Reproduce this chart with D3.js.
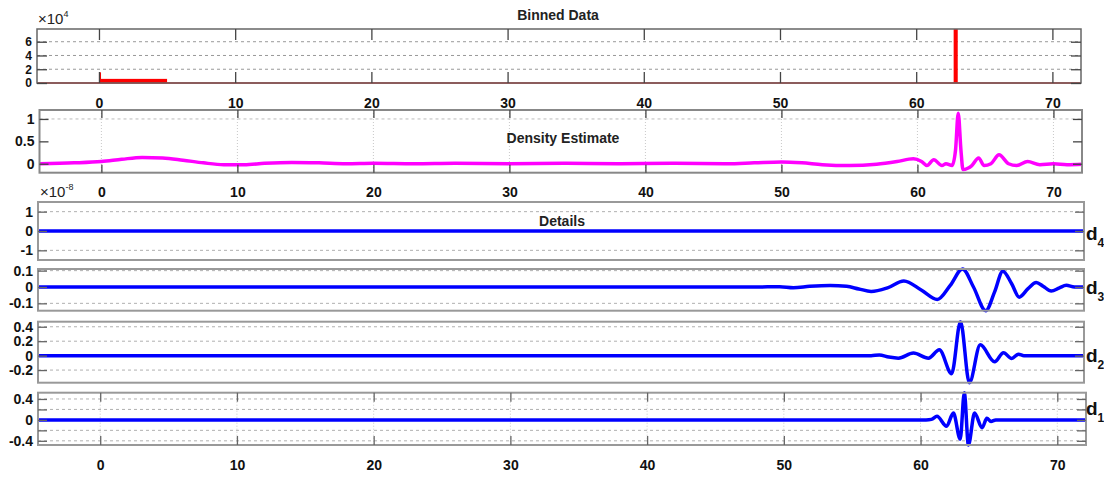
<!DOCTYPE html>
<html>
<head>
<meta charset="utf-8">
<script src="https://cdn.jsdelivr.net/npm/d3@7"></script>
<style>
  body { margin: 0; background: #fff; }
  svg { display: block; }
  text { font-family: "Liberation Sans", Arial, Helvetica, sans-serif; }
</style>
</head>
<body>
<svg id="chart" width="1104" height="477"></svg>
<script>
// Shared x range and ticks
const xDomain = [-4.55, 72.1];
const xTicks = [0, 10, 20, 30, 40, 50, 60, 70];

// Binned data (counts per bin)
const binStart = [0, 0.15, 62.75];
const binEnd   = [0.15, 5.0, 63.05];
const binCount = [15500, 6000, 78500];
const binTicks = [0, 20000, 40000, 60000];

// Density estimate
const densX = [-4.55, -2, 0, 1.5, 3, 4.5, 6, 7.5, 9, 10.5, 12, 14, 16, 18, 20, 23, 26, 30, 34, 38, 42, 46, 48, 50,
               51.5, 53, 55, 57, 58.5, 59.7, 60.3, 60.7, 61.2, 61.8, 62.1, 62.55, 62.8, 63.0, 63.2, 63.35, 63.7, 64.0,
               64.5, 64.9, 65.4, 66.0, 66.7, 67.3, 68.1, 69.0, 70, 71, 72.1];
const densY = [0.0, 0.02, 0.05, 0.1, 0.14, 0.13, 0.08, 0.02, -0.02, -0.02, 0.01, 0.03, 0.02, 0.0, 0.01, 0.0, 0.01, 0.0, 0.01, 0.0, 0.01, 0.0, 0.02, 0.04,
               0.02, -0.02, -0.04, -0.01, 0.05, 0.11, 0.05, -0.04, 0.09, -0.04, 0.0, -0.04, 0.3, 1.13, 0.3, -0.13, -0.1, -0.04,
               0.13, -0.04, 0.0, 0.2, 0.0, -0.04, 0.05, -0.02, 0.0, -0.02, -0.01];
const densTicks = [0, 0.5, 1];

// Detail coefficients, levels 4 to 1
const d4X = [-4.55, 20, 40, 60, 72.1];
const d4Y = [0, 0, 0, 0, 0];
const d4Ticks = [-1, 0, 1];

const d3X = [-4.55, 10, 30, 48, 49.8, 50.8, 52, 53.5, 54.7, 55.6, 56.5, 57.7, 58.9, 60.2, 61.35, 62.3, 63.2, 64.0,
             64.9, 65.55, 66.15, 66.8, 67.35, 68.0, 68.6, 69.1, 69.7, 70.3, 70.8, 71.4, 72.1];
const d3Y = [0, 0, 0, 0, 0.002, -0.004, 0.004, 0.009, 0.004, -0.012, -0.027, -0.005, 0.037, -0.02, -0.076, 0.01, 0.11, 0.0,
             -0.145, -0.03, 0.097, 0.02, -0.062, -0.01, 0.027, 0.005, -0.025, -0.005, 0.01, 0.0, 0.0];
const d3Ticks = [-0.1, 0, 0.1];

const d2X = [-4.55, 20, 40, 56.5, 57.1, 57.8, 58.5, 59.6, 60.7, 61.5, 62.4, 63.05, 63.7, 64.5, 65.55, 66.2, 66.8, 67.3, 67.7, 70, 72.1];
const d2Y = [0, 0, 0, 0, 0.01, -0.02, -0.035, 0.035, -0.035, 0.08, -0.25, 0.47, -0.375, 0.15, -0.085, 0.04, -0.04, 0.02, 0, 0, 0];
const d2Ticks = [-0.2, 0, 0.2, 0.4];

const d1X = [-4.55, 20, 40, 60.4, 60.8, 61.2, 61.9, 62.4, 62.9, 63.2, 63.5, 63.95, 64.5, 64.85, 65.15, 65.5, 72.1];
const d1Y = [0, 0, 0, 0, 0.01, 0.07, -0.12, 0.13, -0.37, 0.52, -0.48, 0.13, -0.15, 0.03, -0.03, 0, 0];
const d1Ticks = [-0.4, -0.2, 0, 0.2, 0.4];
const d1Labels = [-0.4, 0, 0.4];

const svg = d3.select("#chart");
svg.append("rect").attr("width", 1104).attr("height", 477).attr("fill", "#fff");

const num = d => String(d);

// Builds one axes box: grid, frame, inward ticks on all four sides
function panel(box, yDomain, o) {
  const x = d3.scaleLinear().domain(xDomain).range([box.l, box.r]);
  const y = d3.scaleLinear().domain(yDomain).range([box.b, box.t]);
  const g = svg.append("g");
  const tl = o.tickLen || 9;

  // horizontal grid
  g.append("g").selectAll("line").data(o.hGrid || []).join("line")
    .attr("x1", box.l).attr("x2", box.r)
    .attr("y1", d => y(d)).attr("y2", d => y(d))
    .attr("stroke", o.gridColor || "#aaa").attr("stroke-width", 1)
    .attr("stroke-dasharray", "3,3");
  // vertical grid
  g.append("g").selectAll("line").data(o.vGrid || []).join("line")
    .attr("x1", d => x(d)).attr("x2", d => x(d))
    .attr("y1", box.t).attr("y2", box.b)
    .attr("stroke", "#c8c8c8").attr("stroke-width", 1)
    .attr("stroke-dasharray", "1,2");

  const plot = g.append("g");

  // frame
  g.append("rect")
    .attr("x", box.l).attr("y", box.t)
    .attr("width", box.r - box.l).attr("height", box.b - box.t)
    .attr("fill", "none").attr("stroke", o.frame || "#999").attr("stroke-width", o.frameW || 2);

  const styleAxis = (sel, showText, size) => {
    sel.select(".domain").remove();
    sel.selectAll(".tick line").attr("stroke", o.tickColor || "#444").attr("stroke-width", 1.3);
    sel.selectAll(".tick text")
      .attr("fill", "#111").attr("font-size", size || 14).attr("font-weight", "bold")
      .style("display", showText ? null : "none");
  };

  // y axes
  const yl = g.append("g").attr("transform", `translate(${box.l},0)`)
    .call(d3.axisLeft(y).tickValues(o.yTicks).tickSize(-tl).tickPadding(5)
      .tickFormat(d => (o.yLabels ? (o.yLabels.includes(d) ? o.yFmt(d) : "") : o.yFmt(d))));
  styleAxis(yl, true, o.yFont);
  const yr = g.append("g").attr("transform", `translate(${box.r},0)`)
    .call(d3.axisRight(y).tickValues(o.yTicks).tickSize(-tl).tickFormat(""));
  styleAxis(yr, false);

  // x axes
  if (o.xTicksOn) {
    const xb = g.append("g").attr("transform", `translate(0,${box.b})`)
      .call(d3.axisBottom(x).tickValues(xTicks).tickSize(-(o.xTickLen || 10)).tickPadding(o.xPad || 15).tickFormat(num));
    styleAxis(xb, !!o.xLabels);
    const xt = g.append("g").attr("transform", `translate(0,${box.t})`)
      .call(d3.axisTop(x).tickValues(xTicks).tickSize(-(o.xTickLen || 10)).tickFormat(""));
    styleAxis(xt, false);
  }
  return { x, y, plot };
}

function title(txt, cx, by) {
  svg.append("text").attr("x", cx).attr("y", by).attr("text-anchor", "middle")
    .attr("font-size", 14).attr("font-weight", "bold").attr("fill", "#222").text(txt);
}

function exponent(x, by, pow) {
  const t = svg.append("text").attr("x", x).attr("y", by)
    .attr("font-size", 15).attr("fill", "#222");
  t.append("tspan").text("×10");
  t.append("tspan").attr("font-size", 9).attr("dy", -7).text(pow);
}

function dLabel(lvl, x, by) {
  const t = svg.append("text").attr("x", x).attr("y", by)
    .attr("font-size", 19).attr("font-weight", "bold").attr("fill", "#111");
  t.append("tspan").text("d");
  t.append("tspan").attr("font-size", 12).attr("dy", 7).text(lvl);
}

// ---- Binned data ----
const p1 = panel({ l: 37, r: 1081, t: 29, b: 83 }, [0, d3.max(binCount)], {
  yTicks: binTicks, yFmt: d => String(d / 1e4), hGrid: binTicks.filter(d => d > 0), yFont: 12,
  gridColor: "#999", frame: "#666", frameW: 1.5, tickLen: 10,
  xTicksOn: true, xLabels: true, xPad: 15, xTickLen: 11
});
p1.plot.append("line")
  .attr("x1", p1.x(xDomain[0])).attr("x2", p1.x(xDomain[1]))
  .attr("y1", p1.y(0)).attr("y2", p1.y(0))
  .attr("stroke", "#ff0000").attr("stroke-width", 1.5);
p1.plot.selectAll("rect").data(binCount).join("rect")
  .attr("x", (d, i) => p1.x(binStart[i]))
  .attr("width", (d, i) => p1.x(binEnd[i]) - p1.x(binStart[i]))
  .attr("y", d => p1.y(d))
  .attr("height", d => p1.y(0) - p1.y(d))
  .attr("fill", "#ff0000");
title("Binned Data", 558, 20);
exponent(38, 24, "4");

// ---- Density estimate ----
const p2 = panel({ l: 39.5, r: 1082, t: 110, b: 172.7 }, [-0.2, 1.2], {
  yTicks: densTicks, yFmt: num, hGrid: [1], vGrid: xTicks,
  gridColor: "#bbb", frame: "#888", frameW: 2, tickLen: 9,
  xTicksOn: true, xLabels: true, xPad: 14, xTickLen: 8
});
p2.plot.append("path")
  .datum(densX.map((v, i) => [v, densY[i]]))
  .attr("fill", "none").attr("stroke", "#ff00ff").attr("stroke-width", 3.5)
  .attr("stroke-linejoin", "round")
  .attr("d", d3.line().x(d => p2.x(d[0])).y(d => p2.y(d[1])).curve(d3.curveMonotoneX));
title("Density Estimate", 563, 143);
exponent(40, 197, "-8");

// ---- Details ----
const details = [
  { X: d4X, Y: d4Y, ticks: d4Ticks, dom: [-1.5, 1.5], box: { l: 38, r: 1084, t: 202, b: 260 }, lvl: "4", lab: 240 },
  { X: d3X, Y: d3Y, ticks: d3Ticks, dom: null, box: { l: 38, r: 1084, t: 269, b: 310.7 }, lvl: "3", lab: 294 },
  { X: d2X, Y: d2Y, ticks: d2Ticks, dom: null, box: { l: 38, r: 1084, t: 321.7, b: 382.7 }, lvl: "2", lab: 362 },
  { X: d1X, Y: d1Y, ticks: d1Ticks, dom: null, box: { l: 38, r: 1086, t: 392.7, b: 445 }, lvl: "1", lab: 415, labels: d1Labels, xAxis: true }
];

details.forEach(s => {
  const dom = s.dom || d3.extent(s.Y);
  const p = panel(s.box, dom, {
    yTicks: s.ticks, yFmt: num, yLabels: s.labels,
    hGrid: s.ticks.filter(d => d !== 0 && d > dom[0] && d < dom[1]),
    vGrid: s.xAxis ? xTicks : [],
    gridColor: "#b0b0b0", frame: "#999", frameW: 2, tickLen: 9, tickColor: "#666",
    xTicksOn: !!s.xAxis, xLabels: !!s.xAxis, xPad: 15, xTickLen: 9
  });
  p.plot.append("path")
    .datum(s.X.map((v, i) => [v, s.Y[i]]))
    .attr("fill", "none").attr("stroke", "#0000ff").attr("stroke-width", 3.5)
    .attr("stroke-linejoin", "round")
    .attr("d", d3.line().x(d => p.x(d[0])).y(d => p.y(d[1])).curve(d3.curveMonotoneX));
  dLabel(s.lvl, 1086, s.lab);
});
title("Details", 562, 226);
</script>
</body>
</html>
